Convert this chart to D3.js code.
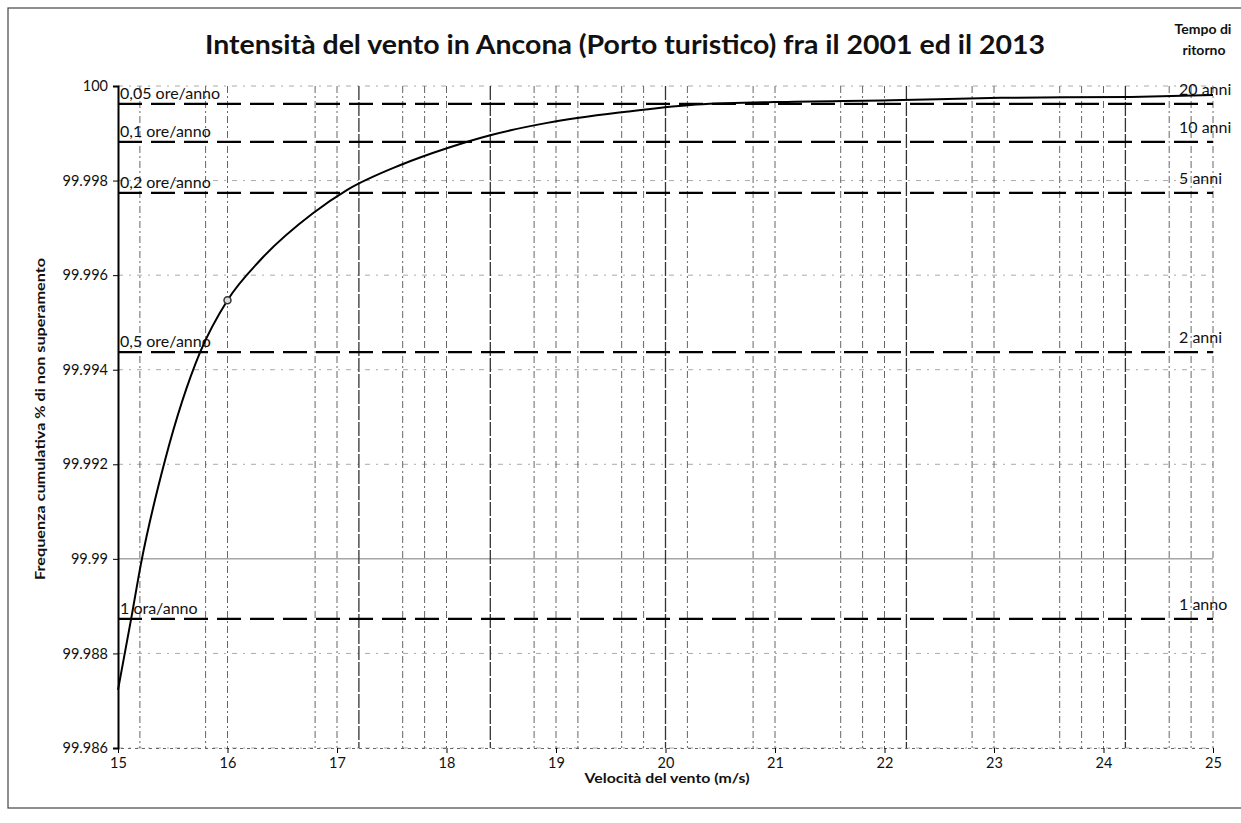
<!DOCTYPE html>
<html>
<head>
<meta charset="utf-8">
<script src="https://cdn.jsdelivr.net/npm/d3@7"></script>
<style>
  body { margin: 0; background: #fff; }
  text { font-family: Lato, "Open Sans", sans-serif; fill: #111; }
</style>
</head>
<body>
<div id="chart-area"></div>
<script>
// data
var speed = [15.0, 15.12, 15.21, 15.43, 15.75, 16.0, 16.3, 16.78, 17.09, 17.58, 18.01, 18.4, 18.92, 19.62, 20.23, 20.99, 22.06, 23.06, 24.25, 25.0];
var freq = [99.98723, 99.98873, 99.9899, 99.99209, 99.99437, 99.99547, 99.99632, 99.99731, 99.9978, 99.99833, 99.99869, 99.99896, 99.99922, 99.99945, 99.9996, 99.99966, 99.9997, 99.99975, 99.99977, 99.99981];
var marker = [{ x: 16.0, y: 99.99547 }];

var xTicks = [15, 16, 17, 18, 19, 20, 21, 22, 23, 24, 25];
var yTicks = [99.986, 99.988, 99.99, 99.992, 99.994, 99.996, 99.998, 100];

var thresholds = [99.99962, 99.99882, 99.99774, 99.99437, 99.98873];
var oreLabels = ["0,05 ore/anno", "0,1 ore/anno", "0,2 ore/anno", "0,5 ore/anno", "1 ora/anno"];
var anniLabels = ["20 anni", "10 anni", "5 anni", "2 anni", "1 anno"];

// vertical grid lines that survived the scan
var minorGrid = [15.2, 15.8, 16.0, 16.8, 17.0, 17.2, 17.6, 17.8, 18.0, 18.4, 18.8, 19.0, 19.2, 19.6, 19.8, 20.0, 20.2, 20.8, 21.0, 21.6, 21.8, 22.0, 22.2, 22.8, 23.0, 23.6, 23.8, 24.0, 24.2, 24.6, 24.8, 25.0];
var darkGrid = [17.2, 18.4, 20.0, 22.2, 24.2];

var svg = d3.select("#chart-area")
  .append("svg")
  .attr("width", 1241)
  .attr("height", 823);

// chart border
svg.append("rect")
  .attr("x", 8).attr("y", 8)
  .attr("width", 1250).attr("height", 800)
  .attr("fill", "none")
  .attr("stroke", "#444")
  .attr("stroke-width", 1.2);

var x = d3.scaleLinear().domain([15, 25]).range([118, 1213]);
var y = d3.scaleLinear().domain([99.986, 100]).range([748, 86]);

// horizontal grid
svg.append("g").selectAll("line")
  .data(yTicks)
  .enter().append("line")
  .attr("x1", x(15)).attr("x2", x(25))
  .attr("y1", function(d) { return y(d); })
  .attr("y2", function(d) { return y(d); })
  .attr("stroke", function(d) { return d === 99.99 ? "#777" : "#aaa"; })
  .attr("stroke-width", 1)
  .attr("stroke-dasharray", function(d) { return d === 99.99 ? null : "5,6,2,6"; });

// vertical grid
svg.append("g").selectAll("line")
  .data(minorGrid)
  .enter().append("line")
  .attr("x1", function(d) { return x(d); })
  .attr("x2", function(d) { return x(d); })
  .attr("y1", y(100)).attr("y2", y(99.986))
  .attr("stroke", function(d) { return darkGrid.indexOf(d) >= 0 ? "#333" : "#666"; })
  .attr("stroke-width", function(d) { return darkGrid.indexOf(d) >= 0 ? 1.3 : 1; })
  .attr("stroke-dasharray", function(d) { return darkGrid.indexOf(d) >= 0 ? "14,2" : "7,3,2,3"; });

// return period lines
svg.append("g").selectAll("line")
  .data(thresholds)
  .enter().append("line")
  .attr("x1", x(15)).attr("x2", x(25))
  .attr("y1", function(d) { return y(d); })
  .attr("y2", function(d) { return y(d); })
  .attr("stroke", "#000")
  .attr("stroke-width", 2.2)
  .attr("stroke-dasharray", "24,9");

svg.append("g").selectAll("text")
  .data(thresholds)
  .enter().append("text")
  .attr("x", x(15) + 2)
  .attr("y", function(d) { return y(d) - 5; })
  .attr("font-size", "16px")
  .text(function(d, i) { return oreLabels[i]; });

svg.append("g").selectAll("text")
  .data(thresholds)
  .enter().append("text")
  .attr("x", 1179)
  .attr("y", function(d) { return y(d) - 9; })
  .attr("font-size", "16px")
  .text(function(d, i) { return anniLabels[i]; });

// axes
var yAxis = d3.axisLeft(y)
  .tickValues(yTicks)
  .tickSize(5)
  .tickFormat(function(d) { return String(+d.toFixed(3)); });
var gy = svg.append("g")
  .attr("transform", "translate(" + x(15) + ",0)")
  .call(yAxis);
gy.select(".domain").attr("stroke", "#000").attr("stroke-width", 2);
gy.selectAll("text").attr("font-size", "14.5px").attr("dx", "-2").attr("fill", "#222");

var xAxis = d3.axisBottom(x)
  .tickValues(xTicks)
  .tickSize(5)
  .tickFormat(d3.format("d"));
var gx = svg.append("g")
  .attr("transform", "translate(0," + y(99.986) + ")")
  .call(xAxis);
gx.select(".domain").attr("stroke", "#666").attr("stroke-dasharray", "3,4");
gx.selectAll("text").attr("font-size", "14.5px").attr("dy", "0.85em").attr("fill", "#222");

// curve
var line = d3.line()
  .x(function(d, i) { return x(speed[i]); })
  .y(function(d) { return y(d); })
  .curve(d3.curveMonotoneX);

svg.append("path")
  .attr("d", line(freq))
  .attr("fill", "none")
  .attr("stroke", "#000")
  .attr("stroke-width", 2);

svg.selectAll(".marker")
  .data(marker)
  .enter().append("circle")
  .attr("class", "marker")
  .attr("cx", function(d) { return x(d.x); })
  .attr("cy", function(d) { return y(d.y); })
  .attr("r", 3.5)
  .attr("fill", "#ddd")
  .attr("stroke", "#333")
  .attr("stroke-width", 1.5);

// titles
svg.append("text")
  .attr("x", 625)
  .attr("y", 54)
  .attr("text-anchor", "middle")
  .attr("font-size", "26px")
  .attr("font-weight", "bold")
  .attr("textLength", 840)
  .attr("lengthAdjust", "spacingAndGlyphs")
  .text("Intensità del vento in Ancona (Porto turistico) fra il 2001 ed il 2013");

svg.append("text")
  .attr("x", 667)
  .attr("y", 783)
  .attr("text-anchor", "middle")
  .attr("font-size", "14px")
  .attr("font-weight", "bold")
  .attr("textLength", 165)
  .attr("lengthAdjust", "spacingAndGlyphs")
  .text("Velocità del vento (m/s)");

svg.append("text")
  .attr("transform", "translate(45,419) rotate(-90)")
  .attr("text-anchor", "middle")
  .attr("font-size", "14px")
  .attr("font-weight", "bold")
  .attr("textLength", 322)
  .attr("lengthAdjust", "spacingAndGlyphs")
  .text("Frequenza cumulativa % di non superamento");

svg.append("text")
  .attr("x", 1203)
  .attr("y", 34)
  .attr("text-anchor", "middle")
  .attr("font-size", "14px")
  .attr("font-weight", "bold")
  .text("Tempo di");

svg.append("text")
  .attr("x", 1204)
  .attr("y", 55)
  .attr("text-anchor", "middle")
  .attr("font-size", "14px")
  .attr("font-weight", "bold")
  .text("ritorno");
</script>
</body>
</html>
